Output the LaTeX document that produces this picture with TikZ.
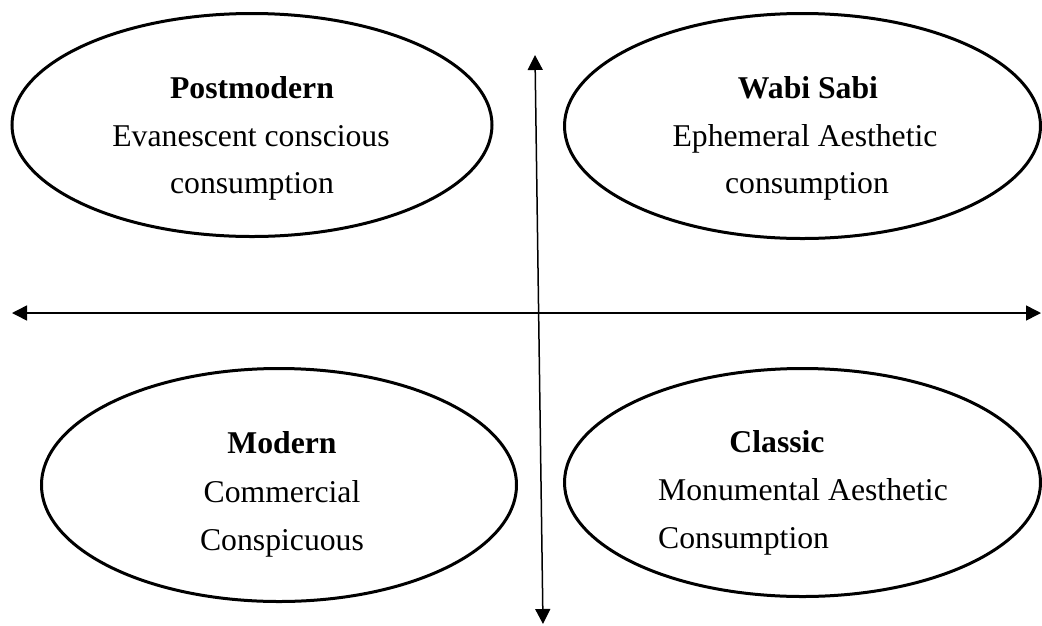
\documentclass[tikz,border=0pt]{standalone}
\usepackage{fontspec}
\setmainfont{Liberation Serif}
\usetikzlibrary{shapes.geometric,arrows.meta}

\begin{document}
\begin{tikzpicture}[x=1pt,y=-1pt,
  oval/.style={draw=black, line width=3pt, ellipse, inner sep=0pt},
  txt/.style={anchor=base, inner sep=0pt, font=\fontsize{31.7}{48}\selectfont},
  head/.style={txt, font=\fontsize{31.7}{48}\selectfont\bfseries},
  axis/.style={line width=1.5pt, {Triangle[length=15pt,width=15pt]}-{Triangle[length=15pt,width=15pt]}}
]
\useasboundingbox (0,0) rectangle (1042,625);

% quadrant ovals
\node[oval, minimum width=480pt, minimum height=223pt] (pm) at (252,125) {};
\node[oval, minimum width=476pt, minimum height=225pt] (ws) at (802.5,126) {};
\node[oval, minimum width=475pt, minimum height=233pt] (mo) at (279,485) {};
\node[oval, minimum width=476pt, minimum height=228pt] (cl) at (802.5,482.5) {};

% axes
\coordinate (ytop) at (535,55);
\coordinate (ybot) at (543,624);
\coordinate (xl) at (12,313);
\coordinate (xr) at (1041,313);
\draw[axis] (ybot) -- (ytop);
\draw[axis] (xl) -- (xr);

% labels: Postmodern
\node[head] (pm1) at (252,98) {Postmodern};
\node[txt]  (pm2) at (251,146) {Evanescent conscious};
\node[txt]  (pm3) at (252,193) {consumption};

% labels: Wabi Sabi
\node[head] (ws1) at (808,98) {Wabi Sabi};
\node[txt]  (ws2) at (805,146) {Ephemeral Aesthetic};
\node[txt]  (ws3) at (807,193) {consumption};

% labels: Modern
\node[head] (mo1) at (282,453) {Modern};
\node[txt]  (mo2) at (282,502) {Commercial};
\node[txt]  (mo3) at (282,550) {Conspicuous};

% labels: Classic
\node[head] (cl1) at (777,452) {Classic};
\node[txt, anchor=base west] (cl2) at (658,500) {Monumental Aesthetic};
\node[txt, anchor=base west] (cl3) at (658,548) {Consumption};
\end{tikzpicture}
\end{document}
